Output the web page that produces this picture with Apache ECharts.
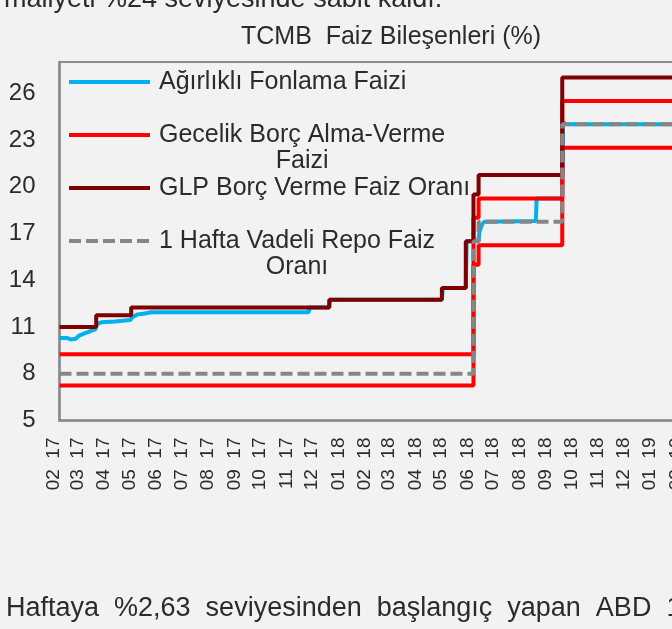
<!DOCTYPE html>
<html>
<head>
<meta charset="utf-8">
<title>TCMB Faiz Bileşenleri</title>
<script src="https://cdn.jsdelivr.net/npm/echarts@6/dist/echarts.min.js"></script>
<style>
html, body { margin: 0; padding: 0; background: #f2f2f2; }
#chart { width: 672px; height: 629px; }
</style>
</head>
<body>
<div id="chart"></div>
<script>
// x axis range (the chart runs on past the right edge of the page)
var axisStart = '2017-02-01';
var axisEnd = '2019-03-01';

// policy rate change dates, each value holds until the next date
var policyDates = ['2017-02-01', '2017-03-16', '2017-04-26', '2017-12-14', '2018-04-25',
                   '2018-05-23', '2018-06-01', '2018-06-07', '2018-09-13', '2019-03-01'];
var glpRates    = [11, 11.75, 12.25, 12.75, 13.5, 16.5, 19.5, 20.75, 27, 27];
var lendRates   = [9.25, 9.25, 9.25, 9.25, 9.25, 9.25, 18, 19.25, 25.5, 25.5];
var borrowRates = [7.25, 7.25, 7.25, 7.25, 7.25, 7.25, 15, 16.25, 22.5, 22.5];
var repoRates   = [8, 8, 8, 8, 8, 8, 16.5, 17.75, 24, 24];

// weighted average funding cost (daily)
var fundingDates = ['2017-02-01', '2017-02-10', '2017-02-14', '2017-02-20', '2017-02-24', '2017-03-03',
                    '2017-03-10', '2017-03-15', '2017-03-17', '2017-03-22', '2017-04-07', '2017-04-25',
                    '2017-04-27', '2017-05-03', '2017-05-10', '2017-05-20', '2017-11-20', '2017-11-21',
                    '2017-12-14', '2017-12-15', '2018-04-25', '2018-04-26', '2018-05-23', '2018-05-24',
                    '2018-06-07', '2018-06-08', '2018-06-11', '2018-06-14', '2018-08-13', '2018-08-14',
                    '2018-09-13', '2018-09-14', '2018-09-20', '2019-03-01'];
var fundingRates = [10.3, 10.3, 10.2, 10.25, 10.45, 10.6,
                    10.75, 10.85, 11.2, 11.3, 11.35, 11.45,
                    11.6, 11.8, 11.85, 11.95, 11.95, 12.25,
                    12.25, 12.75, 12.75, 13.5, 13.5, 16.5,
                    16.5, 17.1, 17.6, 17.75, 17.8, 19.25,
                    19.25, 24.1, 24.0, 24.0];

var yMin = 5, yMax = 28, yStep = 3;

var titleText = 'TCMB  Faiz Bileşenleri (%)';
var topLine = 'maliyeti %24 seviyesinde sabit kaldı.';
var bottomLine = 'Haftaya  %2,63  seviyesinden  başlangıç  yapan  ABD  1';

var legendWrap = {
    'Gecelik Borç Alma-Verme Faizi': ['Gecelik Borç Alma-Verme', 'Faizi'],
    '1 Hafta Vadeli Repo Faiz Oranı': ['1 Hafta Vadeli Repo Faiz', 'Oranı']
};

var font = '"Liberation Sans", Arial, sans-serif';
var textColor = '#2b2b2b';
var frameColor = '#8c8c8c';

function pairs(dates, values) {
    return dates.map(function (d, i) { return [d, values[i]]; });
}

function monthLabel(value) {
    var d = new Date(value);
    var m = d.getMonth() + 1;
    return (m < 10 ? '0' + m : '' + m) + '  ' + String(d.getFullYear()).slice(2);
}

function stepSeries(name, dates, values, color, dashed) {
    return {
        name: name,
        type: 'line',
        step: 'end',
        symbol: 'none',
        data: pairs(dates, values),
        lineStyle: { color: color, width: 4, type: dashed ? [12, 5] : 'solid' },
        itemStyle: { color: color }
    };
}

var chart = echarts.init(document.getElementById('chart'));

chart.setOption({
    animation: false,
    backgroundColor: '#f2f2f2',
    title: {
        text: titleText,
        left: 391,
        textAlign: 'center',
        top: 25,
        padding: 0,
        textStyle: { fontFamily: font, fontSize: 25, fontWeight: 'normal', color: textColor }
    },
    graphic: [
        { type: 'text', x: 4, y: -14, style: { text: topLine, font: '27px ' + font, fill: textColor, verticalAlign: 'top' } },
        { type: 'text', x: 6, y: 595, style: { text: bottomLine, font: '27px ' + font, fill: textColor, verticalAlign: 'top' } }
    ],
    legend: {
        orient: 'vertical',
        left: 67,
        top: 68.75,
        padding: 0,
        itemGap: 0,
        itemWidth: 81,
        itemHeight: 14,
        selectedMode: false,
        itemStyle: { opacity: 0 },
        lineStyle: { width: 4 },
        formatter: function (name) {
            var lines = legendWrap[name];
            if (!lines) return name;
            return '{c| }\n{c|' + lines[0] + '}\n{c|' + lines[1] + '}';
        },
        textStyle: {
            fontFamily: font, fontSize: 25, color: textColor, lineHeight: 26.5,
            padding: [0, 0, 0, 4],
            rich: { c: { align: 'center', fontFamily: font, fontSize: 25, color: textColor, lineHeight: 26.5 } }
        }
    },
    grid: {
        left: 59.5,
        top: 62,
        bottom: 208.5,
        right: -34.5,
        outerBoundsMode: 'none',
        containLabel: false,
        show: true,
        borderColor: frameColor,
        borderWidth: 2,
        backgroundColor: 'transparent'
    },
    xAxis: {
        type: 'time',
        min: axisStart,
        max: axisEnd,
        splitNumber: 30,
        minInterval: 28 * 86400000,
        maxInterval: 31 * 86400000,
        axisLine: { lineStyle: { color: frameColor, width: 2.5 } },
        axisTick: { show: false },
        splitLine: { show: false },
        axisLabel: {
            rotate: 90,
            margin: 17,
            fontFamily: font,
            fontSize: 19,
            color: textColor,
            padding: [0, 0, 12, 0],
            formatter: monthLabel
        }
    },
    yAxis: {
        type: 'value',
        min: yMin,
        max: yMax,
        interval: yStep,
        axisLine: { show: true, lineStyle: { color: frameColor, width: 2.5 } },
        axisTick: { show: false },
        splitLine: { show: false },
        axisLabel: { showMaxLabel: false, margin: 24, fontFamily: font, fontSize: 24, color: textColor }
    },
    series: [
        {
            name: 'Ağırlıklı Fonlama Faizi',
            type: 'line',
            symbol: 'none',
            data: pairs(fundingDates, fundingRates),
            lineStyle: { color: '#00b0f0', width: 4 },
            itemStyle: { color: '#00b0f0' }
        },
        stepSeries('Gecelik Borç Alma-Verme Faizi', policyDates, borrowRates, '#ff0000'),
        stepSeries('Gecelik Borç Alma-Verme Faizi', policyDates, lendRates, '#ff0000'),
        stepSeries('GLP Borç Verme Faiz Oranı', policyDates, glpRates, '#7f0000'),
        stepSeries('1 Hafta Vadeli Repo Faiz Oranı', policyDates, repoRates, '#868686', true)
    ]
});
</script>
</body>
</html>
